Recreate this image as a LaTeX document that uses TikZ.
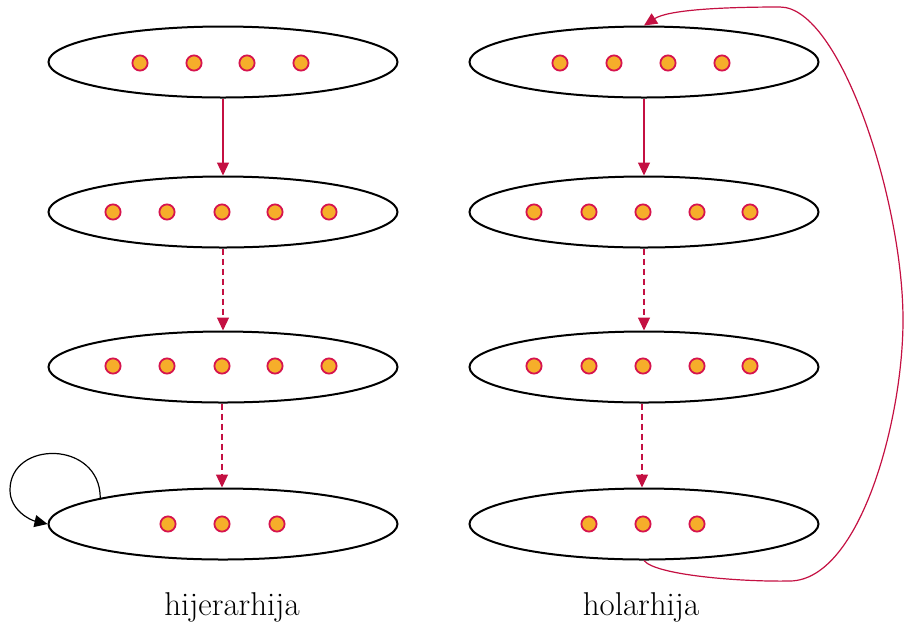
\documentclass[tikz,border=0pt]{standalone}
\usetikzlibrary{shapes.geometric,arrows.meta}
\definecolor{crim}{RGB}{196,16,66}
\definecolor{dotfill}{RGB}{246,174,42}
\definecolor{dotline}{RGB}{214,20,78}
\tikzset{
  lvl/.style={draw=black,line width=1pt,ellipse,minimum width=174.5pt,minimum height=35.5pt,inner sep=0pt},
  dotn/.style={circle,draw=dotline,fill=dotfill,line width=0.9pt,minimum size=7.6pt,inner sep=0pt},
  tip/.style={-{Triangle[length=6.5pt,width=6pt]}},
  link/.style={tip,draw=crim,line width=0.6pt},
  dlink/.style={link,dash pattern=on 3pt off 2pt},
  lab/.style={font=\fontsize{16.5}{19}\selectfont}
}
\begin{document}
\begin{tikzpicture}[x=0.5pt,y=-0.5pt]
\useasboundingbox (0,0) rectangle (904,628);
% left column
\node[lvl] (a1) at (223,62) {};
\node[lvl] (a2) at (223,212) {};
\node[lvl] (a3) at (223,367) {};
\node[lvl] (a4) at (223,524) {};
% right column
\node[lvl] (b1) at (644,62) {};
\node[lvl] (b2) at (644,212) {};
\node[lvl] (b3) at (644,367) {};
\node[lvl] (b4) at (644,524) {};
% dots
\foreach \x [count=\i] in {140,194,247,301} \node[dotn] (a1d\i) at (\x,63) {};
\foreach \x [count=\i] in {113,167,222,275,329} \node[dotn] (a2d\i) at (\x,212) {};
\foreach \x [count=\i] in {113,167,222,275,329} \node[dotn] (a3d\i) at (\x,366) {};
\foreach \x [count=\i] in {168,222,277} \node[dotn] (a4d\i) at (\x,524) {};
\foreach \x [count=\i] in {560,614,668,722} \node[dotn] (b1d\i) at (\x,63) {};
\foreach \x [count=\i] in {534,589,643,697,750} \node[dotn] (b2d\i) at (\x,212) {};
\foreach \x [count=\i] in {534,589,643,697,750} \node[dotn] (b3d\i) at (\x,366) {};
\foreach \x [count=\i] in {589,643,697} \node[dotn] (b4d\i) at (\x,524) {};
% connectors
\draw[link] (a1) -- (a2);
\draw[dlink] (a2) -- (a3);
\draw[dlink] (a3.south) ++(-1,0) coordinate (a3s) (a3s) -- (a3s |- a4.north);
\draw[link] (b1) -- (b2);
\draw[dlink] (b2) -- (b3);
\draw[dlink] (b3.south) ++(-2,0) coordinate (b3s) (b3s) -- (b3s |- b4.north);
% self loop
\draw[tip,black,line width=0.6pt] (a4.168.5) .. controls (100,440) and (10,440) .. (10,490)
  .. controls (10,510) and (30,520) .. (a4.west);
% holarchy loop
\draw[link] (b4.south) .. controls (655,575) and (740,582) .. (790,581)
  .. controls (860,580) and (903,420) .. (903,320)
  .. controls (903,200) and (840,7) .. (780,7)
  .. controls (720,7) and (668,10) .. (b1.north);
% labels
\node[lab] (l1) at (232,607) {hijerarhija};
\node[lab] (l2) at (641,607) {holarhija};
\end{tikzpicture}
\end{document}
